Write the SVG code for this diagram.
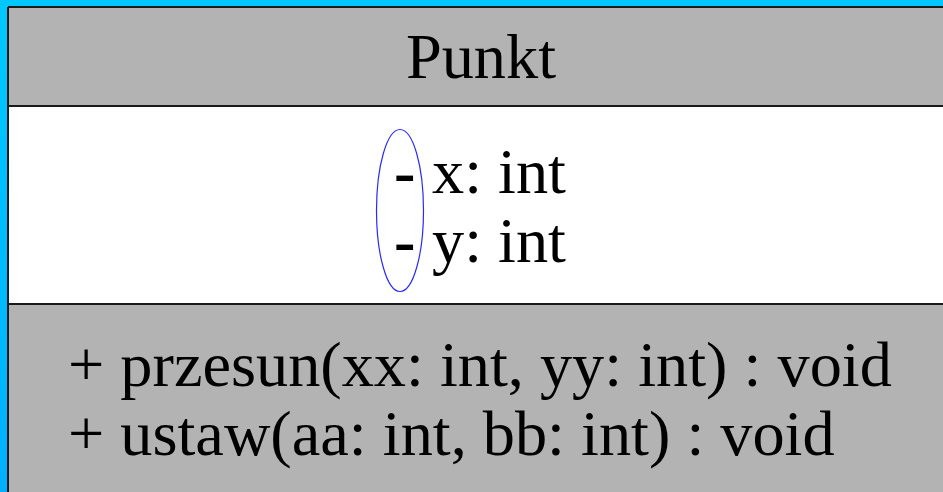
<svg xmlns="http://www.w3.org/2000/svg" width="943" height="492" viewBox="0 0 943 492">
  <defs>
    <linearGradient id="frameFill" x1="0" y1="0" x2="0" y2="1">
      <stop offset="0" stop-color="#00c8ff"/>
      <stop offset="1" stop-color="#00b0ff"/>
    </linearGradient>
    <style>
      .band { fill: #b3b3b3; }
      .body { fill: #ffffff; }
      .rule { stroke: #1a1a1a; stroke-width: 2; fill: none; }
      .lbl { font-family: "Liberation Serif", "Times New Roman", serif; font-size: 64.3px; fill: #000; }
      .vis { font-weight: bold; }
      .mark { fill: none; stroke: #2a2aff; stroke-width: 1.2; }
    </style>
  </defs>

  <!-- outer frame -->
  <rect x="0" y="0" width="943" height="492" fill="url(#frameFill)"/>

  <!-- class box: Punkt -->
  <g id="punkt">
    <rect class="band" x="8" y="7" width="935" height="99"/>
    <rect class="body" x="8" y="106" width="935" height="198"/>
    <rect class="band" x="8" y="304" width="935" height="188"/>
    <line class="rule" x1="8" y1="7" x2="943" y2="7"/>
    <line class="rule" x1="8" y1="7" x2="8" y2="492"/>
    <line class="rule" x1="8" y1="106" x2="943" y2="106"/>
    <line class="rule" x1="8" y1="304" x2="943" y2="304"/>

    <text class="lbl" x="481" y="78" text-anchor="middle">Punkt</text>

    <!-- attributes with private visibility marks -->
    <text class="lbl vis" x="394" y="193">-</text>
    <text class="lbl" x="432" y="193">x: int</text>
    <text class="lbl vis" x="394" y="262">-</text>
    <text class="lbl" x="432" y="262">y: int</text>

    <!-- operations -->
    <text class="lbl" x="68" y="386">+ przesun(xx: int, yy: int) : void</text>
    <text class="lbl" x="68" y="455">+ ustaw(aa: int, bb: int) : void</text>

    <ellipse class="mark" cx="400" cy="210.5" rx="23.5" ry="81"/>
  </g>

  <g id="connectors"/>
</svg>
